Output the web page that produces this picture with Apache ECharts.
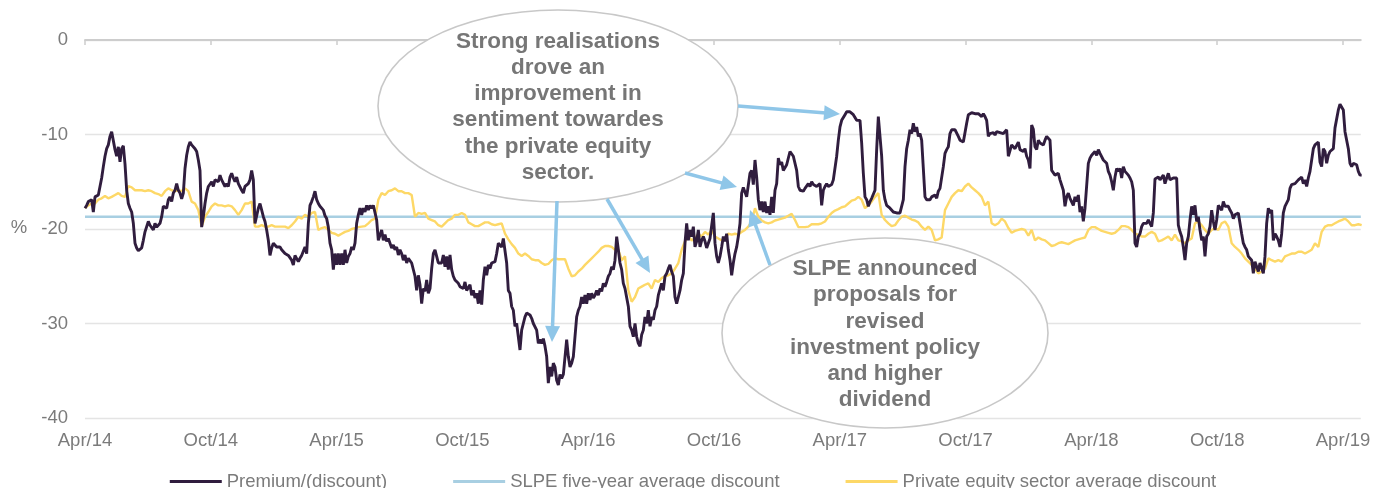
<!DOCTYPE html>
<html><head><meta charset="utf-8">
<script src="https://cdn.jsdelivr.net/npm/echarts@6/dist/echarts.min.js"></script>
<style>html,body{margin:0;padding:0;background:#fff}#c{width:1386px;height:488px}</style>
</head><body><div id="c"></div>
<script>
// ---- data ----
const tickMonths = [0, 6, 12, 18, 24, 30, 36, 42, 48, 54, 60]; // months after Apr 2014
const tickLabels = ['Apr/14','Oct/14','Apr/15','Oct/15','Apr/16','Oct/16','Apr/17','Oct/17','Apr/18','Oct/18','Apr/19'];
const seriesNames = ['Premium/(discount)', 'SLPE five-year average discount', 'Private equity sector average discount'];
const endMonth = 60.85;               // last observation (late Apr 2019)
const premiumStepMonths = 0.079491;   // sampling interval of premium series
const sectorStepMonths = 0.158983;    // sampling interval of sector series
const averageDiscount = [-18.7, -18.7];

const premium = [
-17.8,-17.5,-17.1,-17.0,-16.9,-18.2,-16.6,-16.5,-16.4,-15.5,
-14.6,-13.4,-12.3,-11.5,-11.1,-10.2,-9.7,-9.6,-11.6,-12.3,
-11.3,-12.9,-11.5,-11.2,-13.1,-15.9,-17.3,-17.8,-18.2,-19.4,
-21.5,-22.0,-22.3,-22.5,-22.0,-21.2,-20.3,-20.1,-19.2,-19.6,
-19.8,-20.1,-19.4,-19.8,-19.9,-19.4,-18.7,-17.6,-17.5,-17.8,
-16.9,-16.6,-17.1,-16.2,-15.9,-15.2,-15.9,-16.2,-16.8,-16.2,
-13.6,-12.2,-11.3,-10.8,-11.1,-10.9,-11.5,-11.8,-12.7,-13.8,
-19.8,-18.7,-17.3,-16.2,-15.5,-15.3,-15.0,-15.5,-14.8,-14.6,
-15.0,-14.3,-14.8,-15.0,-15.5,-15.2,-15.5,-14.5,-14.1,-14.6,
-15.0,-14.5,-15.2,-15.2,-15.9,-16.2,-15.5,-15.7,-15.2,-14.8,
-13.8,-14.8,-19.4,-19.2,-17.8,-17.3,-17.5,-18.7,-19.2,-20.1,
-21.2,-22.8,-22.0,-21.5,-21.3,-21.9,-21.7,-21.9,-22.2,-22.0,
-22.6,-22.4,-22.8,-22.9,-23.3,-23.8,
-22.8,-22.9,-23.45,-23.1,-22.8,-22.6,-21.9,-22.6,-19.4,-17.5,
-17.1,-16.6,-16.0,-16.9,-17.3,-17.6,-17.5,-18.0,-18.6,-18.9,
-19.8,-21.5,-22.2,-24.3,-22.6,-23.8,-22.6,-23.8,-22.6,-23.8,
-22.2,-23.6,-22.9,-22.6,-21.9,-22.2,-21.5,-19.4,-18.5,-17.8,
-18.5,-17.8,-18.2,-17.5,-18.0,-17.5,-17.8,-17.5,-17.3,-19.05,
-21.2,-21.0,-20.1,-21.2,-20.6,-21.3,-21.0,-21.5,-22.0,-21.7,
-22.2,-21.9,-22.75,-22.2,-22.6,-23.3,-22.75,-23.6,-23.1,-23.1,
-23.6,-23.6,-25.0,-26.5,-24.9,-25.9,-27.9,-26.3,-26.6,-25.4,
-26.8,-26.3,-24.2,-22.6,-22.2,-22.9,-23.6,-23.8,-23.6,-22.75,
-24.0,-22.9,-24.3,-22.75,-24.3,-25.0,-25.4,-25.6,-25.75,-26.1,
-25.9,-26.3,-25.6,-26.5,-26.6,-25.9,-27.0,-26.5,-27.3,-26.8,
-27.9,-26.5,-28.0,-25.4,-24.0,-24.9,-23.8,-24.2,-23.6,-23.8,
-23.45,-22.6,-21.5,-21.3,-21.9,-21.0,
-21.2,-23.6,-26.5,-26.8,-28.2,-28.6,-30.3,-30.0,-31.4,-32.8,
-30.7,-30.0,-29.3,-28.9,-28.7,-29.1,-29.45,-30.0,-30.0,-30.7,
-32.1,-31.7,-32.1,-31.6,-32.4,-33.5,-36.3,-34.6,-35.6,-34.2,
-34.6,-36.0,-36.5,-35.4,-35.8,-35.4,-35.3,-31.7,-33.5,-34.6,
-34.2,-33.5,-31.4,-29.3,-28.6,-28.2,-27.2,-27.9,-27.0,-27.9,
-26.8,-27.5,-26.8,-27.3,-27.0,-26.5,-27.0,-26.3,-26.6,-25.75,
-26.1,-25.6,-25.0,-24.7,-24.0,-24.3,-23.3,-20.8,-22.2,-23.6,
-24.3,-25.75,-26.3,-26.5,-28.2,-30.3,-30.7,-31.4,-30.0,-31.4,
-32.1,-32.4,-31.2,-30.7,-29.3,-30.0,-28.6,-30.3,-29.3,-29.6,
-28.6,-28.2,-27.0,-26.8,-25.75,-26.5,-25.0,-24.7,-24.2,-23.8,
-24.5,-25.0,-27.2,-27.9,-27.7,-26.5,-25.4,-24.7,-21.5,-19.4,
-21.2,-20.1,-20.8,-19.75,-21.9,-21.3,-20.1,-21.9,-21.2,-20.8,
-21.3,-22.0,-21.5,-21.0,-20.8,-18.3,
-21.5,-22.9,-23.6,-22.9,-21.9,-20.8,-21.3,-20.5,-22.2,-23.3,
-24.9,-23.6,-22.6,-21.9,-20.8,-19.4,-16.2,-15.6,-15.8,-16.6,
-16.6,-14.1,-13.8,-15.3,-12.7,-14.5,-16.9,-18.0,-17.1,-18.2,
-17.1,-18.3,-17.6,-18.5,-16.6,-18.3,-15.9,-15.2,-12.5,-13.2,
-12.9,-13.8,-13.6,-13.2,-13.4,-11.8,-12.0,-12.3,-12.2,-13.8,
-15.5,-15.9,-15.7,-16.0,-15.7,-15.9,-15.2,-15.5,-15.0,-15.3,
-15.2,-15.5,-15.3,-15.2,-17.5,-15.9,-15.5,-15.2,-15.5,-15.5,
-15.3,-14.8,-14.8,-12.3,-10.6,-9.2,-8.5,-8.6,-7.9,-7.6,
-7.4,-7.6,-7.5,-7.9,-8.1,-8.5,-8.3,-8.5,-10.9,-14.1,
-16.6,-16.9,-17.6,-17.1,-16.75,-16.6,-15.9,-11.6,-8.1,-8.1,
-12.3,-15.9,-16.9,-17.5,-17.6,-17.8,-18.0,-18.2,-18.3,-18.3,
-18.3,-18.3,-18.2,-16.9,-13.4,-11.5,-10.6,-9.5,-9.9,-8.8,
-9.7,-9.2,-10.2,-9.9,-10.6,-10.8,
-16.6,-16.9,-16.75,-16.9,-16.6,-16.75,-16.4,-16.75,-16.0,-15.7,
-15.5,-13.4,-12.0,-11.6,-11.3,-9.9,-9.5,-9.7,-9.5,-9.45,
-10.2,-10.6,-10.4,-10.8,-10.6,-8.8,-7.9,-7.8,-7.7,-7.9,
-7.8,-7.9,-7.8,-7.9,-8.1,-7.8,-8.1,-8.5,-10.2,-9.9,
-9.9,-9.8,-10.05,-9.7,-9.9,-9.8,-9.7,-9.9,-9.7,-9.5,
-12.3,-12.2,-11.1,-10.9,-11.5,-11.3,-10.8,-11.6,-11.5,-11.8,
-11.5,-12.3,-12.7,-13.6,-9.0,-9.45,-11.3,-11.6,-10.6,-10.9,
-10.8,-11.1,-10.6,-10.2,-10.05,-10.6,-13.8,-14.0,-14.3,-14.5,
-14.1,-14.8,-15.0,-15.9,-17.6,-16.6,-16.2,-16.75,-16.6,-17.5,
-16.6,-17.1,-16.4,-18.2,-17.6,-19.2,-17.8,-17.6,-13.05,-12.5,
-12.2,-12.0,-11.8,-12.2,-11.6,-12.0,-12.2,-12.7,-12.9,-13.05,
-13.9,-14.3,-15.0,-15.9,-14.5,-13.6,-13.9,-13.6,-14.6,-13.4,
-13.9,-14.1,-14.3,-14.6,-15.0,-15.9,
-21.5,-21.9,-20.8,-20.5,-19.75,-19.4,-19.2,-19.4,-19.05,-19.2,
-19.75,-18.3,-14.7,-14.7,-14.5,-14.8,-14.6,-14.3,-15.2,-14.6,
-14.1,-14.8,-14.6,-14.6,-14.6,-14.6,-19.6,-20.3,-20.8,-21.9,
-23.3,-21.5,-20.8,-19.05,-17.6,-18.5,-17.5,-19.2,-18.7,-20.1,
-21.2,-20.8,-22.9,-20.8,-20.5,-19.75,-18.0,-19.2,-20.1,-19.05,
-17.5,-17.3,-18.0,-17.1,-17.6,-17.5,-17.6,-18.0,-18.3,-18.9,
-18.5,-18.3,-18.3,-19.4,-20.5,-21.5,-21.9,-22.2,-22.9,-22.75,
-23.3,-24.7,-23.45,-23.6,-24.5,-23.6,-23.6,-24.7,-22.9,-19.4,
-17.8,-18.3,-18.0,-21.2,-20.5,-20.8,-21.2,-21.9,-20.5,-18.3,
-17.6,-17.5,-16.9,-15.7,-15.3,-15.2,-15.2,-15.3,-14.8,-15.0,
-14.5,-15.2,-14.8,-15.5,-14.6,-13.9,-13.8,-11.5,-11.1,-11.3,
-10.8,-12.9,-13.4,-11.5,-11.8,-13.05,-12.2,-11.8,-12.0,-11.5,
-9.3,-9.2,-7.4,-6.8,-6.8,-7.4,-9.7,-9.7,-11.5,-13.05,
-13.4,-13.05,-13.2,-13.2,-13.9,-14.3,-14.3
];

const sector = [
-17.8,-17.5,-17.3,-17.3,-16.9,-16.75,-16.5,-16.75,-16.6,-16.4,
-16.2,-16.5,-16.6,-15.45,-15.6,-15.9,-15.9,-15.9,-16.0,-15.9,
-16.0,-16.2,-16.3,-16.5,-16.0,-15.7,-15.9,-16.0,-15.9,-16.0,
-15.7,-16.0,-17.1,-17.3,-18.0,-19.75,-18.7,-18.2,-17.6,-17.3,
-17.5,-17.5,-17.6,-17.5,-17.6,-18.0,-18.5,-18.0,-17.3,-17.3,
-17.1,-19.75,-19.75,-19.6,-19.75,-19.75,-19.6,-19.75,-19.75,-19.75,
-19.75,-19.9,-19.6,
-19.2,-18.7,-18.9,-18.5,-18.7,-18.3,-18.2,-20.1,-19.9,-19.8,
-20.1,-20.4,-20.5,-20.7,-20.5,-20.3,-20.2,-20.0,-19.9,-19.8,
-19.75,-19.7,-19.4,-19.05,-18.9,-16.9,-16.2,-16.4,-16.0,-15.9,
-15.7,-16.0,-16.0,-16.2,-16.2,-16.4,-18.7,-18.3,-18.4,-18.3,
-18.9,-19.05,-19.2,-19.6,-19.75,-19.4,-19.05,-18.9,-18.5,-18.5,
-18.3,-18.5,-19.3,-19.5,-19.7,-19.7,-19.5,-19.3,-19.3,-19.5,
-19.6,-19.5,-19.4,
-20.5,-21.1,-21.6,-22.0,-22.6,-22.85,-22.6,-22.85,-23.2,-23.3,
-23.3,-23.6,-23.8,-23.7,-23.3,-23.1,-23.2,-23.2,-23.2,-24.2,
-25.0,-24.9,-24.5,-24.2,-23.8,-23.45,-23.1,-22.75,-22.4,-22.0,
-21.8,-21.8,-21.9,-22.2,-22.2,-23.3,-22.9,-26.5,-27.7,-27.2,
-26.3,-26.1,-25.9,-25.75,-26.3,-25.4,-25.6,-25.2,-25.0,-24.9,
-24.7,-24.2,-23.6,-22.2,-21.3,-20.8,-21.2,-21.0,-20.5,-20.8,
-20.3,-20.6,-20.1,
-20.8,-21.0,-21.2,-21.0,-20.5,-20.6,-20.5,-20.6,-20.3,-20.1,
-19.75,-19.2,-17.8,-18.7,-19.1,-19.3,-19.4,-19.3,-19.1,-19.0,
-18.9,-18.8,-18.6,-18.4,-19.05,-19.8,-19.8,-19.8,-19.75,-19.5,
-19.5,-19.5,-19.4,-19.2,-18.7,-18.3,-18.05,-17.9,-17.7,-17.6,
-17.3,-17.0,-16.9,-16.6,-16.9,-17.8,-17.5,-17.1,-16.6,-16.2,
-18.5,-19.05,-19.4,-19.7,-19.6,-19.1,-18.7,-18.6,-18.8,-19.0,
-19.1,-19.3,-19.75,
-20.1,-19.75,-20.1,-21.2,-21.1,-20.9,-18.0,-17.3,-16.6,-16.2,
-15.9,-16.0,-15.5,-15.2,-15.6,-15.9,-16.2,-16.6,-17.5,-17.1,
-19.4,-19.6,-19.4,-18.9,-19.2,-19.9,-20.4,-20.2,-20.1,-20.0,
-20.1,-20.7,-20.1,-21.2,-20.9,-21.1,-21.2,-21.5,-21.8,-21.7,
-21.5,-21.4,-21.5,-21.6,-21.4,-21.2,-21.1,-21.0,-20.9,-20.1,
-19.8,-19.8,-20.0,-20.2,-20.3,-20.4,-20.5,-20.4,-20.1,-19.7,
-19.7,-19.8,-20.1,
-20.5,-20.6,-20.8,-20.8,-20.5,-20.3,-20.5,-21.3,-21.2,-21.0,
-20.8,-21.2,-20.6,-21.2,-21.3,-21.5,-21.2,-21.0,-19.4,-19.2,
-19.6,-20.1,-20.5,-20.1,-19.9,-20.1,-19.4,-19.2,-19.75,-21.5,
-21.9,-22.2,-22.6,-23.1,-23.45,-23.8,-24.2,-24.7,-24.5,-24.2,
-23.1,-23.3,-23.45,-23.3,-23.45,-22.9,-22.75,-22.6,-22.6,-22.4,
-22.4,-22.6,-22.4,-22.2,-21.5,-21.9,-20.3,-19.75,-19.6,-19.6,
-19.4,-19.2,-19.05,-18.9,-19.2,-19.6,-19.6,-19.5,-19.6
];

const noteRealisations = ['Strong realisations', 'drove an', 'improvement in', 'sentiment towardes', 'the private equity', 'sector.'];
const noteProposals = ['SLPE announced', 'proposals for', 'revised', 'investment policy', 'and higher', 'dividend'];

// ---- chart ----
const FONT = '"Liberation Sans", Arial, Helvetica, sans-serif';
const GREY = '#7b7b7b';
const ARROW = '#8fc6e8';
const chart = echarts.init(document.getElementById('c'), null, {renderer: 'canvas'});

function arrow(x1, y1, x2, y2) {
  const dx = x2 - x1, dy = y2 - y1, L = Math.hypot(dx, dy), ux = dx / L, uy = dy / L;
  const hl = 16, hw = 7.5, bx = x2 - ux * hl, by = y2 - uy * hl;
  return [
    {type: 'line', z: 120, shape: {x1: x1, y1: y1, x2: bx + ux * 2, y2: by + uy * 2}, style: {stroke: ARROW, lineWidth: 3.5}},
    {type: 'polygon', z: 120, shape: {points: [[x2, y2], [bx - uy * hw, by + ux * hw], [bx + uy * hw, by - ux * hw]]}, style: {fill: ARROW}}
  ];
}
function note(lines, cx, cy) {
  return {type: 'text', z: 130, style: {text: lines.join('\n'), x: cx, y: cy, fill: '#767676',
    font: 'bold 22.5px ' + FONT, align: 'center', verticalAlign: 'middle', textAlign: 'center', textVerticalAlign: 'middle', lineHeight: 26.2}};
}

const labelFmt = v => { const i = tickMonths.indexOf(Math.round(v * 1000) / 1000); return i >= 0 ? tickLabels[i] : ''; };

const option = {
  animation: false,
  backgroundColor: '#ffffff',
  textStyle: {fontFamily: FONT},
  grid: {left: 85, top: 40, width: endMonth * 1258 / 60, height: 378, containLabel: false},
  xAxis: [
    {type: 'value', position: 'bottom', min: 0, max: endMonth, interval: 6,
      axisLine: {show: false, onZero: false}, axisTick: {show: false}, splitLine: {show: false},
      axisLabel: {show: true, customValues: tickMonths, formatter: labelFmt, color: GREY, fontSize: 18.5, fontFamily: FONT, margin: 13, showMinLabel: true, showMaxLabel: true}},
    {type: 'value', position: 'top', min: 0, max: endMonth, interval: 6,
      axisLine: {show: true, onZero: false, lineStyle: {color: '#cdcdcd', width: 1.8}},
      axisTick: {show: true, inside: true, length: 5, customValues: tickMonths, lineStyle: {color: '#cdcdcd', width: 1.5}},
      axisLabel: {show: false}, splitLine: {show: false}}
  ],
  yAxis: {type: 'value', min: -40, max: 0, interval: 10,
    axisLine: {show: false}, axisTick: {show: false},
    axisLabel: {color: GREY, fontSize: 18.5, fontFamily: FONT, margin: 17},
    splitLine: {show: true, lineStyle: {color: '#e4e4e4', width: 1.3}}},
  legend: {data: seriesNames, left: 'center', top: 467, icon: 'rect', itemWidth: 52, itemHeight: 3, itemGap: 66,
    textStyle: {color: GREY, fontSize: 18.5, fontFamily: FONT}},
  series: [
    {name: seriesNames[0], type: 'line', xAxisIndex: 0, z: 5, symbol: 'none', showSymbol: false, color: '#301d3e',
      lineStyle: {color: '#301d3e', width: 2.9}, data: premium.map((v, i) => [i * premiumStepMonths, v])},
    {name: seriesNames[1], type: 'line', xAxisIndex: 0, z: 3, symbol: 'none', showSymbol: false, color: '#a8cfe2',
      lineStyle: {color: '#a8cfe2', width: 2.6}, data: [[0, averageDiscount[0]], [endMonth, averageDiscount[1]]]},
    {name: seriesNames[2], type: 'line', xAxisIndex: 0, z: 4, symbol: 'none', showSymbol: false, color: '#fdd867',
      lineStyle: {color: '#fdd867', width: 2.4}, data: sector.map((v, i) => [i * sectorStepMonths, v])}
  ],
  graphic: [
    {type: 'text', z: 130, style: {text: '%', x: 19, y: 228, fill: GREY, font: '18.5px ' + FONT, align: 'center', verticalAlign: 'middle', textAlign: 'center', textVerticalAlign: 'middle'}},
    {type: 'ellipse', z: 110, shape: {cx: 558, cy: 106, rx: 180, ry: 96}, style: {fill: '#ffffff', stroke: '#c8c8c8', lineWidth: 1.6}},
    {type: 'ellipse', z: 110, shape: {cx: 885, cy: 333, rx: 163, ry: 95}, style: {fill: '#ffffff', stroke: '#c8c8c8', lineWidth: 1.6}},
    note(noteRealisations, 558, 107),
    note(noteProposals, 885, 334.5),
    ...arrow(738, 106, 840, 114),
    ...arrow(685, 173, 737, 187),
    ...arrow(557, 201, 552, 342),
    ...arrow(607, 199, 650, 273),
    ...arrow(770, 265, 750, 210)
  ]
};
chart.setOption(option);
</script></body></html>
